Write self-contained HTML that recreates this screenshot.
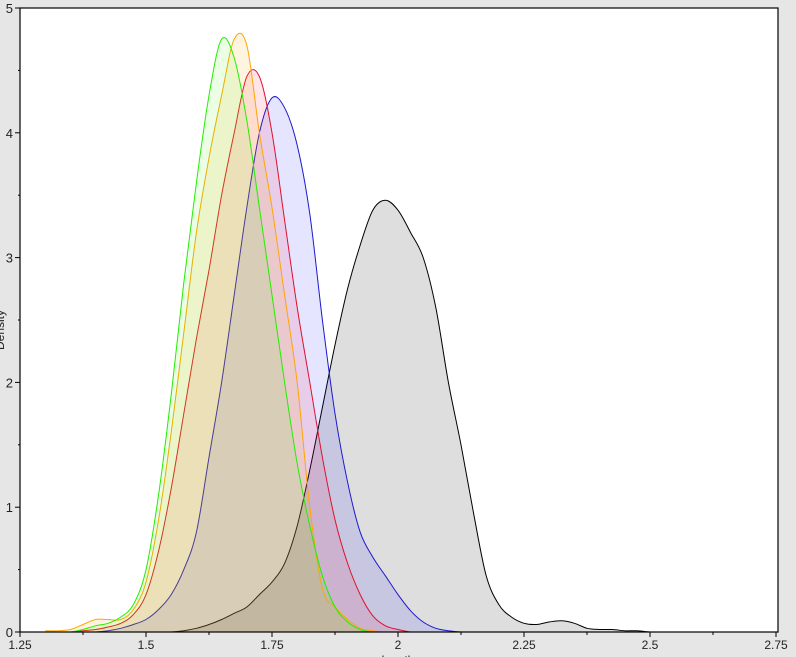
<!DOCTYPE html>
<html><head><meta charset="utf-8"><style>
html,body{margin:0;padding:0;background:#e6e6e6;}
svg{display:block;font-family:"Liberation Sans",sans-serif;}
</style></head><body>
<svg id="chart" width="796" height="657">
<rect x="20" y="8" width="758" height="624" fill="#fff"/>
<g id="series"></g>
<g id="axes"></g>
<text x="4" y="330" transform="rotate(-90 4 330)" text-anchor="middle" font-size="12" fill="#222">Density</text>
<text x="398" y="664" text-anchor="middle" font-size="12" fill="#222">length</text>
</svg>
<script>
const xs=[1.30,1.325,1.35,1.375,1.40,1.425,1.45,1.475,1.50,1.525,1.55,1.575,1.60,1.625,1.65,1.675,1.70,1.725,1.75,1.775,1.80,1.825,1.85,1.875,1.90,1.925,1.95,1.975,2.00,2.025,2.05,2.075,2.10,2.125,2.15,2.175,2.20,2.225,2.25,2.275,2.30,2.325,2.35,2.375,2.40,2.425,2.45,2.475,2.50,2.525,2.55];
const blackVals=[0,0,0,0,0,0,0,0,0,0,0,0.01,0.03,0.06,0.1,0.15,0.2,0.3,0.4,0.55,0.85,1.3,1.8,2.3,2.75,3.1,3.38,3.46,3.38,3.2,3.0,2.6,2.0,1.5,0.95,0.45,0.22,0.12,0.07,0.06,0.08,0.09,0.07,0.03,0.02,0.02,0.01,0.01,0,0,0];
const blueVals=[0,0,0,0,0,0.01,0.03,0.06,0.1,0.18,0.3,0.5,0.8,1.4,2.0,2.7,3.4,4.0,4.28,4.2,3.9,3.35,2.5,1.75,1.2,0.8,0.6,0.45,0.3,0.17,0.08,0.03,0.01,0,0,0,0,0,0,0,0,0,0,0,0,0,0,0,0,0,0];
const redVals=[0,0,0,0.01,0.02,0.04,0.07,0.14,0.3,0.65,1.15,1.75,2.35,2.9,3.5,4.0,4.45,4.45,4.0,3.3,2.6,2.0,1.4,0.9,0.55,0.3,0.13,0.05,0.02,0,0,0,0,0,0,0,0,0,0,0,0,0,0,0,0,0,0,0,0,0,0];
const orangeVals=[0.01,0.01,0.02,0.06,0.1,0.1,0.1,0.18,0.4,0.9,1.6,2.4,3.2,3.8,4.3,4.75,4.7,4.0,3.4,2.7,2.0,1.0,0.35,0.2,0.1,0.03,0.01,0,0,0,0,0,0,0,0,0,0,0,0,0,0,0,0,0,0,0,0,0,0,0,0];
const greenVals=[0,0,0,0.02,0.05,0.07,0.12,0.22,0.5,1.1,1.9,2.8,3.6,4.3,4.75,4.6,4.1,3.4,2.7,2.0,1.35,0.85,0.45,0.2,0.08,0.02,0,0,0,0,0,0,0,0,0,0,0,0,0,0,0,0,0,0,0,0,0,0,0,0,0];
const xTicks=[1.25,1.5,1.75,2,2.25,2.5,2.75];
const xTickLabels=["1.25","1.5","1.75","2","2.25","2.5","2.75"];
const yTicks=[0,1,2,3,4,5];
const NS="http://www.w3.org/2000/svg";
function sx(v){return 20+(v-1.25)*504;}
function sy(v){return 632-v*124.8;}
function smooth(pts){let d="M"+pts[0][0]+","+pts[0][1];for(let i=0;i<pts.length-1;i++){const p0=pts[i-1]||pts[i],p1=pts[i],p2=pts[i+1],p3=pts[i+2]||p2;const c1=[p1[0]+(p2[0]-p0[0])/6,p1[1]+(p2[1]-p0[1])/6],c2=[p2[0]-(p3[0]-p1[0])/6,p2[1]-(p3[1]-p1[1])/6];d+=` C${c1[0].toFixed(1)},${Math.min(632,c1[1]).toFixed(1)} ${c2[0].toFixed(1)},${Math.min(632,c2[1]).toFixed(1)} ${p2[0].toFixed(1)},${p2[1].toFixed(1)}`;}return d;}
const g=document.getElementById('series');
const series=[["black",blackVals,"#000","rgba(0,0,0,0.13)"],["blue",blueVals,"#1a1acc","rgba(0,0,255,0.1)"],["red",redVals,"#e0102a","rgba(255,0,40,0.1)"],["orange",orangeVals,"#ffa500","rgba(255,165,0,0.12)"],["green",greenVals,"#22ee00","rgba(60,255,0,0.1)"]];
series.forEach(s=>{const pts=xs.map((x,i)=>[sx(x),sy(s[1][i])]);const d=smooth(pts);
const a=document.createElementNS(NS,'path');a.setAttribute('d',d+` L${sx(xs[xs.length-1])},632 L${sx(xs[0])},632 Z`);a.setAttribute('fill',s[3]);


g.appendChild(a);
const l=document.createElementNS(NS,'path');l.setAttribute('d',d);l.setAttribute('fill','none');l.setAttribute('stroke',s[2]);l.setAttribute('stroke-width','1');


g.appendChild(l);});
const ax=document.getElementById('axes');
function el(tag,attrs){const e=document.createElementNS(NS,tag);for(const k in attrs)e.setAttribute(k,attrs[k]);ax.appendChild(e);return e;}
const frame=el('rect',{x:20,y:8,width:758,height:624,fill:'none',stroke:'#000','stroke-width':1.2});


xTicks.forEach((t,i)=>{const x=sx(t);el('line',{x1:x,x2:x,y1:632,y2:637,stroke:'#000'});
if(i<xTicks.length-1){const m=sx(t+0.125);el('line',{x1:m,x2:m,y1:632,y2:635,stroke:'#000'});}
const tx=el('text',{x:x,y:649,'text-anchor':'middle','font-size':12,fill:'#222'});tx.textContent=xTickLabels[i];

});
yTicks.forEach((t,i)=>{const y=sy(t);el('line',{x1:15,x2:20,y1:y,y2:y,stroke:'#000'});
if(i<yTicks.length-1){const m=sy(t+0.5);el('line',{x1:18,x2:20,y1:m,y2:m,stroke:'#000'});}
const tx=el('text',{x:13,y:y+5,'text-anchor':'end','font-size':13,fill:'#222'});tx.textContent=String(t);

});
</script>
</body></html>
